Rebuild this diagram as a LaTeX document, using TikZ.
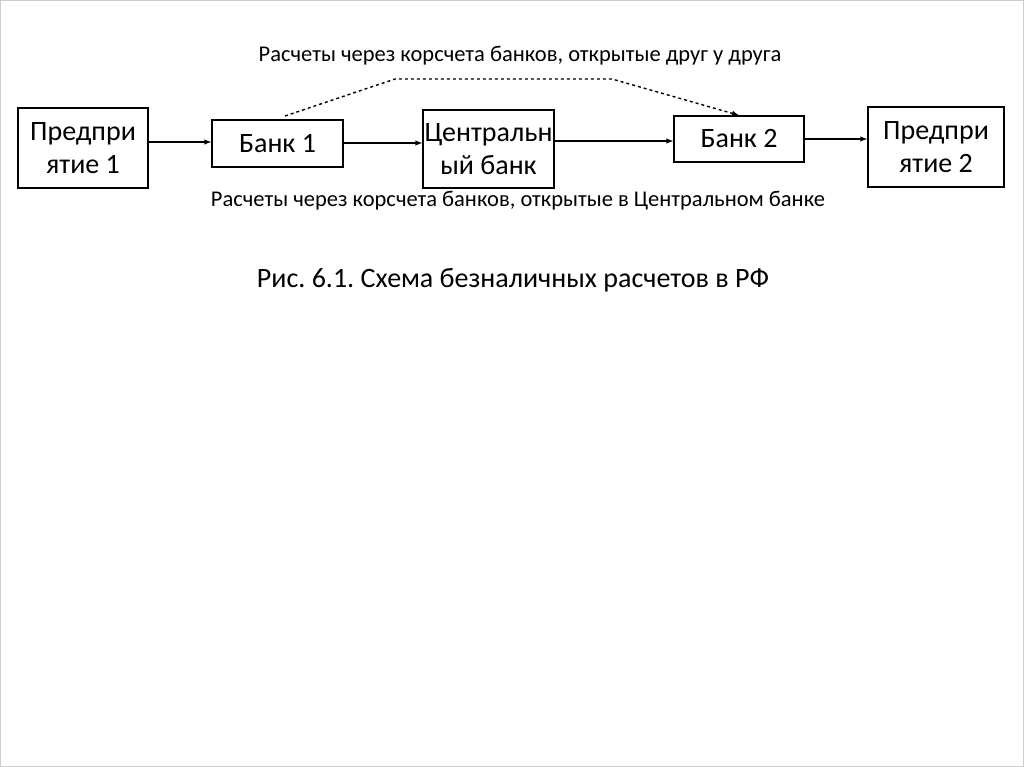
\documentclass[tikz,border=0pt]{standalone}
\usepackage{fontspec}
\setmainfont{Carlito}
\frenchspacing
\begin{document}
\begin{tikzpicture}[x=1pt,y=-1pt,
  box/.style={draw,line width=1.4pt,inner sep=0pt,align=center,font=\fontsize{28}{33}\selectfont},
  arr/.style={->,>=latex,line width=1.4pt},
  lbl/.style={font=\fontsize{22.5}{26}\selectfont}]
\useasboundingbox (0,0) rectangle (1024,767);
\draw[gray!40] (0.5,0.5) rectangle (1023.5,766.5);
\node[box,minimum width=130,minimum height=80] (p1) at (83,148) {Предпри\\ятие 1};
\node[box,minimum width=131,minimum height=47] (b1) at (277.5,143.5) {Банк 1};
\node[box,minimum width=131,minimum height=78] (cb) at (488.5,149) {Центральн\\ый банк};
\node[box,minimum width=130,minimum height=46] (b2) at (739,139) {Банк 2};
\node[box,minimum width=136,minimum height=80] (p2) at (936,147) {Предпри\\ятие 2};
\draw[arr] (p1.east|-0,142) -- (b1.west|-0,142);
\draw[arr] (b1.east|-0,143) -- (cb.west|-0,143);
\draw[arr] (cb.east|-0,141) -- (b2.west|-0,141);
\draw[arr] (b2.east|-0,139) -- (p2.west|-0,139);
\coordinate (ds) at (285,116);
\draw[arr,dashed] (ds) -- (395,79) -- (612,79) -- (b2.north);
\node[lbl] (t1) at (520,56) {Расчеты через корсчета банков, открытые друг у друга};
\node[lbl] (t2) at (518,201) {Расчеты через корсчета банков, открытые в Центральном банке};
\node[font=\fontsize{28}{33}\selectfont] (cap) at (513,280) {Рис. 6.1. Схема безналичных расчетов в РФ};
\end{tikzpicture}
\end{document}
